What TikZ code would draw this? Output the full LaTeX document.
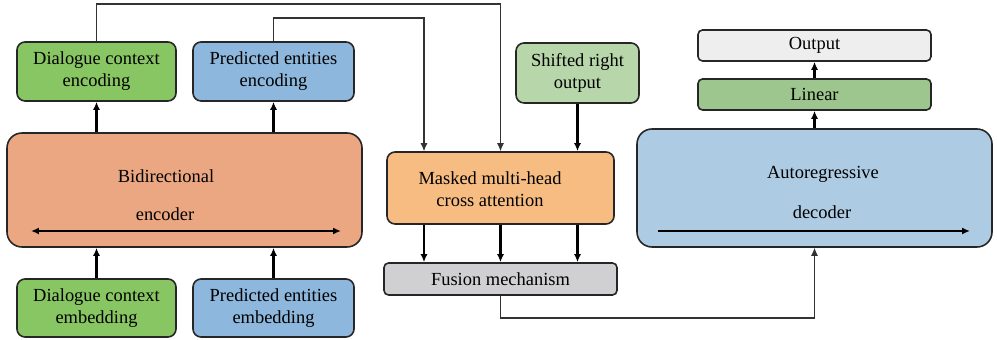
\documentclass[tikz,border=0pt]{standalone}
\usepackage{fontspec}
\setmainfont{Liberation Serif}
\usetikzlibrary{arrows.meta}
\newcommand{\FusionDiagramUnit}{0.02}
\definecolor{ctxgreen}{HTML}{88C663}
\definecolor{entblue}{HTML}{8DB7DC}
\definecolor{encsalmon}{HTML}{EBA782}
\definecolor{attnorange}{HTML}{F6BC82}
\definecolor{shiftgreen}{HTML}{B7D7AA}
\definecolor{fusegrey}{HTML}{D0D0D2}
\definecolor{outgrey}{HTML}{EEEEEE}
\definecolor{lingreen}{HTML}{9CC68D}
\definecolor{decblue}{HTML}{ADCBE3}
\tikzset{
	box/.style={draw=black!85, line width=0.9pt, rounded corners=0.16cm, align=center, inner sep=0pt},
	bigbox/.style={box, rounded corners=0.3cm},
	flat/.style={box, rounded corners=0.09cm},
	flow/.style={line width=1.2pt, -{Latex[length=1.6mm,width=1.4mm]}},
	route/.style={line width=0.6pt, black!80, -{Latex[length=1.6mm,width=1.4mm]}},
}

\begin{document}
\begin{tikzpicture}[x=\FusionDiagramUnit cm, y=-\FusionDiagramUnit cm, font=\fontsize{10.5}{12.6}\selectfont]
	\useasboundingbox (0,0) rectangle (997,340);

	\node[box, fill=ctxgreen, minimum width=159*\FusionDiagramUnit cm, minimum height=58*\FusionDiagramUnit cm] (a1) at (96.5,308) {Dialogue context\\embedding};
	\node[box, fill=entblue, minimum width=161*\FusionDiagramUnit cm, minimum height=58*\FusionDiagramUnit cm] (a2) at (273.5,308) {Predicted entities\\embedding};
	\node[bigbox, fill=encsalmon, minimum width=355*\FusionDiagramUnit cm, minimum height=114*\FusionDiagramUnit cm] (b1) at (184.5,190) {};
	\node (b2) at (166,176) {Bidirectional};
	\node (b3) at (165,214) {encoder};
	\node[box, fill=ctxgreen, minimum width=159*\FusionDiagramUnit cm, minimum height=59*\FusionDiagramUnit cm] (c1) at (96.5,71.5) {Dialogue context\\encoding};
	\node[box, fill=entblue, minimum width=161*\FusionDiagramUnit cm, minimum height=59*\FusionDiagramUnit cm] (c2) at (273.5,71.5) {Predicted entities\\encoding};

	\node[box, fill=shiftgreen, minimum width=123*\FusionDiagramUnit cm, minimum height=60*\FusionDiagramUnit cm] (d1) at (577.5,73) {Shifted right\\output};
	\node[box, fill=attnorange, minimum width=227*\FusionDiagramUnit cm, minimum height=72*\FusionDiagramUnit cm] (d2) at (500.5,188) {};
	\node[align=center] (d4) at (490,189) {Masked multi-head\\cross attention};
	\node[flat, fill=fusegrey, minimum width=233*\FusionDiagramUnit cm, minimum height=32*\FusionDiagramUnit cm] (d3) at (500.5,279) {Fusion mechanism};

	\node[bigbox, fill=decblue, minimum width=355*\FusionDiagramUnit cm, minimum height=118*\FusionDiagramUnit cm] (e1) at (814.5,188) {};
	\node (e4) at (823,174) {Autoregressive};
	\node (e5) at (822,212) {decoder};
	\node[flat, fill=lingreen, minimum width=233*\FusionDiagramUnit cm, minimum height=31*\FusionDiagramUnit cm] (e2) at (814.5,94.5) {Linear};
	\node[flat, fill=outgrey, minimum width=233*\FusionDiagramUnit cm, minimum height=31*\FusionDiagramUnit cm] (e3) at (814.5,45.5) {Output};

	\coordinate (bl) at (31,231);
	\coordinate (br) at (341,231);
	\coordinate (el) at (658,231);
	\coordinate (er) at (970,231);
	\coordinate (t1) at (500.5,4);
	\coordinate (t2) at (424,18);
	\coordinate (t3) at (577.5,0);
	\coordinate (u1) at (814.5,318);

	\draw[flow, {Latex[length=1.6mm,width=1.4mm]}-{Latex[length=1.6mm,width=1.4mm]}] (bl) -- (br);
	\draw[flow] (el) -- (er);
	\draw[flow] (a1) -- (a1 |- b1.south);
	\draw[flow] (a2) -- (a2 |- b1.south);
	\draw[flow] (b1.north -| c1) -- (c1);
	\draw[flow] (b1.north -| c2) -- (c2);

	\draw[route] (c1.north) |- (t1) -- (d2.north);
	\draw[route] (c2.north) |- (t2) -- (t2 |- d2.north);
	\draw[flow] (d1) -- (d1 |- d2.north);
	\foreach \c in {t2,t1,t3}
		\draw[flow] (d2.south -| \c) -- (d3.north -| \c);
	\draw[route] (d3.south) |- (u1) -- (e1.south);

	\draw[flow] (e1.north) -- (e2.south);
	\draw[flow] (e2.north) -- (e3.south);
\end{tikzpicture}
\end{document}
